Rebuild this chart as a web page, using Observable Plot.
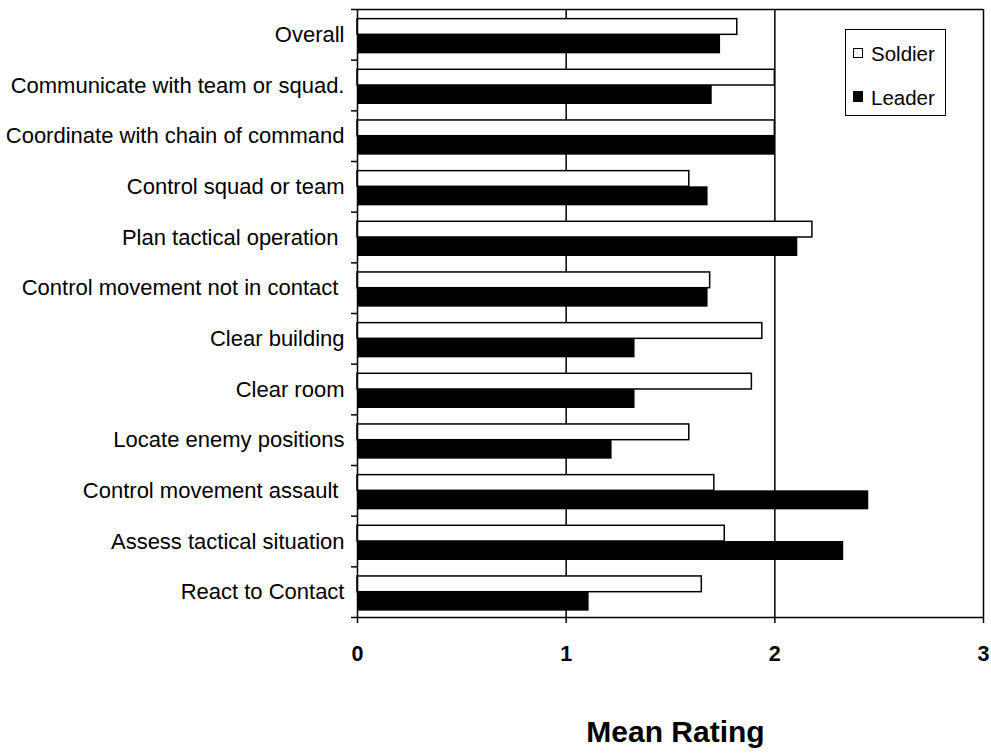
<!DOCTYPE html>
<html>
<head>
<meta charset="utf-8">
<script src="https://cdn.jsdelivr.net/npm/d3@7"></script>
<script src="https://cdn.jsdelivr.net/npm/@observablehq/plot@0.6"></script>
<style>
  html, body { margin: 0; padding: 0; background: #fff; }
  #wrap { position: relative; width: 991px; height: 754px; font-family: "Liberation Sans", Arial, sans-serif; }
  #legend { position: absolute; left: 845px; top: 29px; width: 99px; height: 85px; border: 1.5px solid #000; background: #fff; }
  .item { position: absolute; left: 7px; font-size: 20.5px; line-height: 20px; color: #000; }
  .sw { position: absolute; left: 0; width: 10px; height: 10px; box-sizing: border-box; border: 1.5px solid #000; }
  .lab { position: absolute; left: 18px; top: 0; white-space: nowrap; }
</style>
</head>
<body>
<div id="wrap"></div>
<script>
const categories = [
  "Overall",
  "Communicate with team or squad.",
  "Coordinate with chain of command",
  "Control squad or team",
  "Plan tactical operation\u00a0",
  "Control movement not in contact\u00a0",
  "Clear building",
  "Clear room",
  "Locate enemy positions",
  "Control movement assault\u00a0",
  "Assess tactical situation",
  "React to Contact"
];
const soldier = [1.82, 2.00, 2.00, 1.59, 2.18, 1.69, 1.94, 1.89, 1.59, 1.71, 1.76, 1.65];
const leader  = [1.74, 1.70, 2.00, 1.68, 2.11, 1.68, 1.33, 1.33, 1.22, 2.45, 2.33, 1.11];
const xTicks = [0, 1, 2, 3];
const seriesNames = ["Soldier", "Leader"];
const axisTitle = "Mean Rating";

const rows = categories.map((c, i) => ({i, category: c, soldier: soldier[i], leader: leader[i]}));

const font = "Liberation Sans, Arial, sans-serif";

const chart = Plot.plot({
  width: 991,
  height: 754,
  marginLeft: 357,
  marginRight: 8,
  marginTop: 9,
  marginBottom: 137,
  style: {fontFamily: font, background: "white", color: "black"},
  x: {domain: [0, 3]},
  y: {domain: [0, categories.length], reverse: true},
  marks: [
    // gridlines
    Plot.ruleX([1, 2], {stroke: "black", strokeWidth: 1.5}),
    // soldier bars
    Plot.rect(rows, {x1: 0, x2: "soldier", y1: d => d.i + 0.19, y2: d => d.i + 0.5,
      fill: "white", stroke: "black", strokeWidth: 1.5}),
    // leader bars
    Plot.rect(rows, {x1: 0, x2: "leader", y1: d => d.i + 0.5, y2: d => d.i + 0.875,
      fill: "black"}),
    // frame lines
    Plot.ruleX([0, 3], {stroke: "black", strokeWidth: 1.5}),
    Plot.ruleY([0, categories.length], {stroke: "black", strokeWidth: 1.5}),
    // category boundary ticks
    Plot.axisY({ticks: d3.range(categories.length + 1), tickSize: 6, tickFormat: () => "",
      strokeWidth: 1.5, stroke: "black", label: null}),
    // category labels
    Plot.axisY({ticks: d3.range(categories.length).map(i => i + 0.5), tickSize: 0, tickPadding: 13,
      tickFormat: v => categories[Math.floor(v)], fontSize: 22, fill: "black", label: null}),
    // x axis
    Plot.axisX({ticks: xTicks, tickSize: 6, tickPadding: 22, strokeWidth: 1.5, stroke: "black",
      tickFormat: d3.format("d"), fontSize: 21.5, fontWeight: "bold", fill: "black", label: null}),
    // x axis title
    Plot.text([axisTitle], {frameAnchor: "bottom", dy: 124, dx: 5, fontSize: 30, fontWeight: "bold",
      fill: "black", text: d => d})
  ]
});

const wrap = document.getElementById("wrap");
wrap.appendChild(chart);

const legend = document.createElement("div");
legend.id = "legend";
legend.innerHTML =
  `<div class="item" style="top:14px"><div class="sw" style="top:4px;background:#fff"></div><div class="lab">${seriesNames[0]}</div></div>` +
  `<div class="item" style="top:58px"><div class="sw" style="top:3px;height:11px;background:#000"></div><div class="lab">${seriesNames[1]}</div></div>`;
wrap.appendChild(legend);
</script>
</body>
</html>
